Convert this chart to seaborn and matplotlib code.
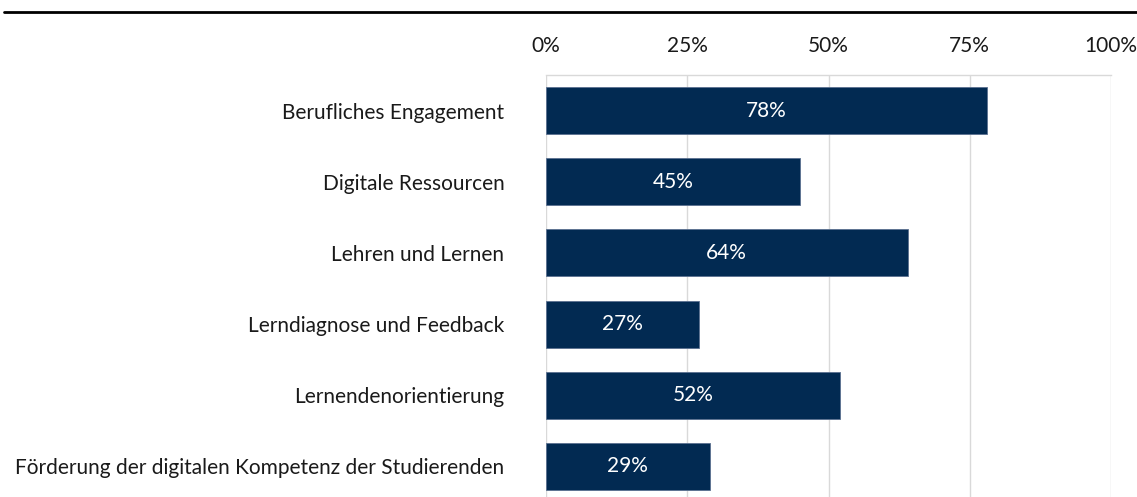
import seaborn as sns
import matplotlib.pyplot as plt
import pandas as pd
from matplotlib.lines import Line2D
from matplotlib.ticker import FuncFormatter

categories = ['Berufliches Engagement', 'Digitale Ressourcen', 'Lehren und Lernen',
              'Lerndiagnose und Feedback', 'Lernendenorientierung',
              'Förderung der digitalen Kompetenz der Studierenden']
values = [78, 45, 64, 27, 52, 29]
xticks = [0, 25, 50, 75, 100]

df = pd.DataFrame({'Kompetenz': categories, 'Anteil': values})

sns.set_theme(style='white')
plt.rcParams['font.family'] = ['Lato', 'DejaVu Sans']
fs = 15

fig = plt.figure(figsize=(11.37, 4.97), dpi=100)
# axes: x 546..1111 px, y 75..502 px (bottom row slightly cut off)
ax = fig.add_axes([546 / 1137, 1 - 502 / 497, (1111 - 546) / 1137, (502 - 75) / 497])

sns.barplot(data=df, x='Anteil', y='Kompetenz', color='#022a52', width=0.66,
            saturation=1, edgecolor='#5a7090', linewidth=0.6, ax=ax, zorder=3)

for bar, v in zip(ax.patches, values):
    ax.text(bar.get_x() + bar.get_width() / 2, bar.get_y() + bar.get_height() / 2,
            f'{v}%', color='white', ha='center', va='center', fontsize=fs, zorder=4)

ax.set_xlim(0, 100)
ax.set_xticks(xticks)
ax.xaxis.set_major_formatter(FuncFormatter(lambda x, p: f'{x:.0f}%'))
ax.xaxis.tick_top()
ax.grid(axis='x', color='#d9d9d9', linewidth=1, zorder=0)
ax.tick_params(axis='x', length=0, pad=14, labelsize=fs, labelcolor='#1a1a1a')
ax.tick_params(axis='y', length=0, pad=30, labelsize=fs, labelcolor='#1a1a1a')
ax.set_xlabel('')
ax.set_ylabel('')
for s in ['left', 'right', 'bottom']:
    ax.spines[s].set_visible(False)
ax.spines['top'].set_color('#d9d9d9')
ax.spines['top'].set_linewidth(1)

fig.add_artist(Line2D([4 / 1137, 1], [1 - 12 / 497, 1 - 12 / 497],
                      transform=fig.transFigure, color='black', linewidth=2))

plt.savefig('out.png', dpi=100)
plt.close('all')
